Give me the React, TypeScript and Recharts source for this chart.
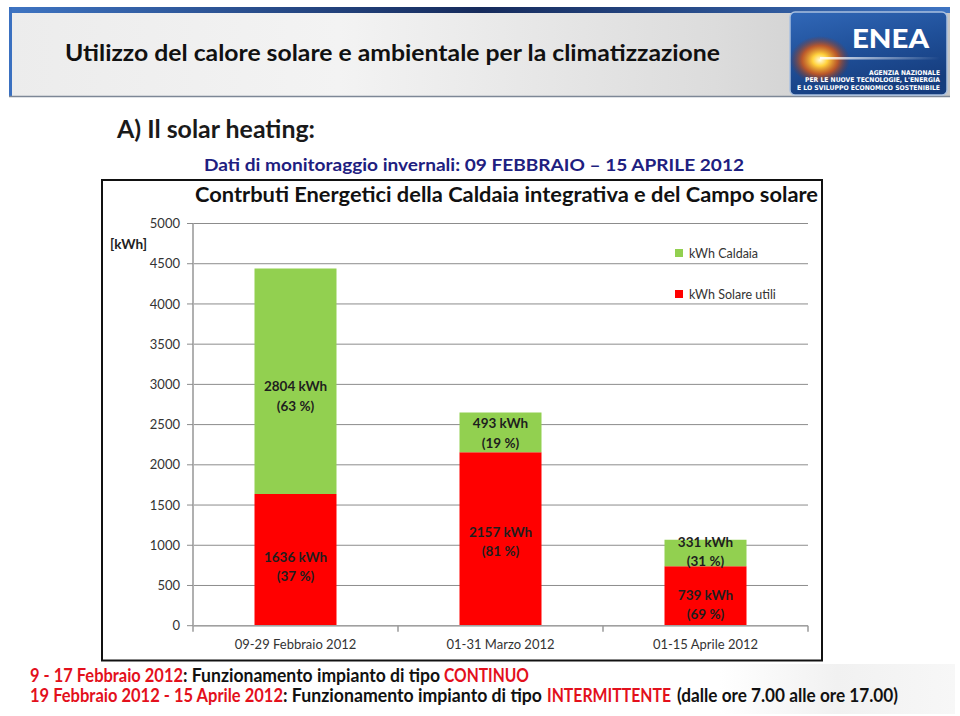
import React from "react";
import { BarChart, Bar, XAxis, YAxis, CartesianGrid, Legend, LabelList } from "recharts";

const categories = ["09-29 Febbraio 2012", "01-31 Marzo 2012", "01-15 Aprile 2012"];
const solareValues = [1636, 2157, 739];
const caldaiaValues = [2804, 493, 331];
const yTicks = [0, 500, 1000, 1500, 2000, 2500, 3000, 3500, 4000, 4500, 5000];
const solareName = "kWh Solare utili";
const caldaiaName = "kWh Caldaia";
const legendOrder = [caldaiaName, solareName];

const data = categories.map((name, i) => ({
  name,
  solare: solareValues[i],
  caldaia: caldaiaValues[i],
}));

const FONT = "Lato, Carlito, Calibri, 'Open Sans', sans-serif";
const GREEN = "#92d050";
const RED = "#ff0000";
const NOTE_RED = "#e3101c";

// small vertical nudges of the in-bar labels (as placed in the original slide)
const caldaiaLabelShift = [15, 1, -1];
const solareLabelShift = [7, 3, 9];

const makeLabel = (values: number[], others: number[], shift: number[]) => (props: any) => {
  const { x, y, width, height, index } = props;
  const v = values[index];
  const total = v + others[index];
  const pct = Math.round((v / total) * 100);
  const cx = Number(x) + Number(width) / 2;
  const cy = Number(y) + Number(height) / 2 + shift[index];
  const style = { fontFamily: FONT, fontSize: 13.5, fontWeight: 700, fill: "#1e1e1e" } as any;
  return (
    <g>
      <text x={cx} y={cy - 5} textAnchor="middle" style={style}>{`${v} kWh`}</text>
      <text x={cx} y={cy + 14.5} textAnchor="middle" style={style}>{`(${pct} %)`}</text>
    </g>
  );
};

const XTick = (props: any) => {
  const { x, y, payload, index, visibleTicksCount, width } = props;
  const w = typeof width === "number" ? width : 615;
  const half = w / (visibleTicksCount || 3) / 2;
  const isLast = index === (visibleTicksCount || 3) - 1;
  return (
    <g>
      <line x1={x - half} x2={x - half} y1={y} y2={y + 6} stroke="#9a9a9a" strokeWidth={1.5} />
      {isLast && <line x1={x + half} x2={x + half} y1={y} y2={y + 6} stroke="#9a9a9a" strokeWidth={1.5} />}
      <text x={x} y={y + 23} textAnchor="middle" style={{ fontFamily: FONT, fontSize: 13, fill: "#333" }}>
        {payload.value}
      </text>
    </g>
  );
};

const colorOf: Record<string, string> = { [caldaiaName]: GREEN, [solareName]: RED };

const LegendContent = () => (
  <div style={{ fontFamily: FONT, fontSize: 12.5, color: "#333" }}>
    {legendOrder.map((name) => (
      <div key={name} style={{ display: "flex", alignItems: "center", height: 16, marginBottom: 25 }}>
        <span style={{ display: "inline-block", width: 8, height: 8, background: colorOf[name], marginRight: 6 }} />
        <span>{name}</span>
      </div>
    ))}
  </div>
);

const noteStyle = { fontFamily: FONT, fontSize: 18, fontWeight: 700 } as any;

const Slide = () => (
  <svg width={960} height={716} style={{ position: "absolute", left: 0, top: 0 }}>
    <defs>
      <linearGradient id="bannerBg" x1="0" y1="0" x2="1" y2="0">
        <stop offset="0" stopColor="#ececec" />
        <stop offset="0.35" stopColor="#f3f3f3" />
        <stop offset="0.75" stopColor="#dcdcdc" />
        <stop offset="1" stopColor="#c6c6c6" />
      </linearGradient>
      <linearGradient id="bannerTop" x1="0" y1="0" x2="1" y2="0">
        <stop offset="0" stopColor="#3e74c2" />
        <stop offset="0.5" stopColor="#162b5c" />
        <stop offset="1" stopColor="#3e74c2" />
      </linearGradient>
      <linearGradient id="logoBg" x1="0" y1="0" x2="0.4" y2="1">
        <stop offset="0" stopColor="#3168b8" />
        <stop offset="0.55" stopColor="#1f4f98" />
        <stop offset="1" stopColor="#163d7e" />
      </linearGradient>
      <radialGradient id="glow" cx="0.5" cy="0.5" r="0.5">
        <stop offset="0" stopColor="#fffbe0" />
        <stop offset="0.25" stopColor="#ffd23c" />
        <stop offset="0.6" stopColor="#e05a10" stopOpacity="0.8" />
        <stop offset="1" stopColor="#8a2a10" stopOpacity="0" />
      </radialGradient>
      <linearGradient id="streak" x1="0" y1="0" x2="1" y2="0">
        <stop offset="0" stopColor="#ffffff" stopOpacity="0.9" />
        <stop offset="1" stopColor="#ffffff" stopOpacity="0" />
      </linearGradient>
      <linearGradient id="shadowPanel" x1="0" y1="0" x2="1" y2="0">
        <stop offset="0" stopColor="#ffffff" />
        <stop offset="0.5" stopColor="#f1f1f1" />
        <stop offset="1" stopColor="#f7f7f7" />
      </linearGradient>
    </defs>
    <rect x={0} y={0} width={960} height={716} fill="#ffffff" />
    {/* banner */}
    <rect x={9} y={7} width={941} height={90} fill="url(#bannerBg)" />
    <rect x={9} y={7} width={941} height={6} fill="url(#bannerTop)" />
    <rect x={9} y={7} width={3} height={90} fill="#3a70c0" />
    <line x1={9} x2={950} y1={96.5} y2={96.5} stroke="#7d8796" strokeWidth={1.5} />
    <text x={65} y={61} textLength={655} lengthAdjust="spacingAndGlyphs"
      style={{ fontFamily: FONT, fontSize: 23, fontWeight: 700, fill: "#111" }}>
      Utilizzo del calore solare e ambientale per la climatizzazione
    </text>
    {/* logo */}
    <rect x={790} y={12} width={157} height={83} rx={5} fill="url(#logoBg)" stroke="#a9c0e0" strokeWidth={1.5} />
    <ellipse cx={820} cy={60} rx={30} ry={24} fill="url(#glow)" />
    <rect x={820} y={57} width={120} height={2.5} fill="url(#streak)" />
    <text x={852} y={48} textLength={77} lengthAdjust="spacingAndGlyphs"
      style={{ fontFamily: FONT, fontSize: 27, fontWeight: 900, fill: "#ffffff" }}>ENEA</text>
    <g style={{ fontFamily: "'DejaVu Sans', sans-serif", fontSize: 6.5, fontWeight: 700, fill: "#ffffff" }}>
      <text x={940} y={74.5} textAnchor="end" textLength={71} lengthAdjust="spacingAndGlyphs">AGENZIA NAZIONALE</text>
      <text x={940} y={82} textAnchor="end" textLength={135} lengthAdjust="spacingAndGlyphs">PER LE NUOVE TECNOLOGIE, L'ENERGIA</text>
      <text x={940} y={89.5} textAnchor="end" textLength={143} lengthAdjust="spacingAndGlyphs">E LO SVILUPPO ECONOMICO SOSTENIBILE</text>
    </g>
    {/* headings */}
    <text x={117} y={138} textLength={198} lengthAdjust="spacingAndGlyphs"
      style={{ fontFamily: FONT, fontSize: 24, fontWeight: 700, fill: "#1a1a1a" }}>A) Il solar heating:</text>
    <text x={204} y={171} textLength={540} lengthAdjust="spacingAndGlyphs"
      style={{ fontFamily: FONT, fontSize: 17.5, fontWeight: 700, fill: "#1e2080" }}>
      Dati di monitoraggio invernali: 09 FEBBRAIO – 15 APRILE 2012
    </text>
    {/* chart frame */}
    <rect x={102} y={180} width={720} height={480.5} fill="#ffffff" stroke="#111" strokeWidth={2} />
    <text x={195} y={202} textLength={623} lengthAdjust="spacingAndGlyphs"
      style={{ fontFamily: FONT, fontSize: 20, fontWeight: 700, fill: "#111" }}>
      Contrbuti Energetici della Caldaia integrativa e del Campo solare
    </text>
    <text x={110} y={249} textLength={37} lengthAdjust="spacingAndGlyphs"
      style={{ fontFamily: FONT, fontSize: 12.5, fontWeight: 700, fill: "#222" }}>[kWh]</text>
    {/* bottom shadow panel */}
    <rect x={720} y={664} width={235} height={50} fill="url(#shadowPanel)" />
    {/* bottom notes, line 1 */}
    <text x={30} y={682} textLength={153} lengthAdjust="spacingAndGlyphs" style={{ ...noteStyle, fill: NOTE_RED }}>9 - 17 Febbraio 2012</text>
    <text x={183} y={682} textLength={257} lengthAdjust="spacingAndGlyphs" style={{ ...noteStyle, fill: "#111" }}>: Funzionamento impianto di tipo</text>
    <text x={444} y={682} textLength={85} lengthAdjust="spacingAndGlyphs" style={{ ...noteStyle, fill: NOTE_RED }}>CONTINUO</text>
    {/* bottom notes, line 2 */}
    <text x={30} y={702} textLength={253} lengthAdjust="spacingAndGlyphs" style={{ ...noteStyle, fill: NOTE_RED }}>19 Febbraio 2012 - 15 Aprile 2012</text>
    <text x={283} y={702} textLength={259} lengthAdjust="spacingAndGlyphs" style={{ ...noteStyle, fill: "#111" }}>: Funzionamento impianto di tipo</text>
    <text x={547} y={702} textLength={124} lengthAdjust="spacingAndGlyphs" style={{ ...noteStyle, fill: NOTE_RED }}>INTERMITTENTE</text>
    <text x={677} y={702} textLength={221} lengthAdjust="spacingAndGlyphs" style={{ ...noteStyle, fill: "#111" }}>(dalle ore 7.00 alle ore 17.00)</text>
  </svg>
);

export default function App() {
  return (
    <div style={{ position: "absolute", left: 0, top: 0, width: 960, height: 716, background: "#fff", overflow: "hidden" }}>
      <Slide />
      <div style={{ position: "absolute", left: 101, top: 179 }}>
        <BarChart
          width={722}
          height={482}
          data={data}
          margin={{ top: 44.5, right: 15, bottom: 5.3, left: 0 }}
          barCategoryGap="30%"
        >
          <CartesianGrid vertical={false} stroke="#8c8c8c" strokeWidth={1} />
          <XAxis
            dataKey="name"
            height={30}
            tickSize={0}
            tickMargin={0}
            tick={<XTick />}
            axisLine={{ stroke: "#a0a0a0", strokeWidth: 1.5 }}
            tickLine={false}
            interval={0}
          />
          <YAxis
            width={92}
            domain={[0, 5000]}
            ticks={yTicks}
            interval={0}
            tickSize={6}
            tickMargin={7}
            tick={{ fontFamily: FONT, fontSize: 13, fill: "#333" }}
            tickLine={{ stroke: "#8c8c8c" }}
            axisLine={{ stroke: "#b0b0b0", strokeWidth: 2 }}
          />
          <Legend
            layout="vertical"
            align="center"
            verticalAlign="middle"
            content={<LegendContent />}
            wrapperStyle={{ position: "absolute", left: 574, top: 66, width: 140 }}
          />
          <Bar dataKey="solare" name={solareName} stackId="a" fill={RED} isAnimationActive={false}>
            <LabelList dataKey="solare" content={makeLabel(solareValues, caldaiaValues, solareLabelShift)} />
          </Bar>
          <Bar dataKey="caldaia" name={caldaiaName} stackId="a" fill={GREEN} isAnimationActive={false}>
            <LabelList dataKey="caldaia" content={makeLabel(caldaiaValues, solareValues, caldaiaLabelShift)} />
          </Bar>
        </BarChart>
      </div>
    </div>
  );
}
